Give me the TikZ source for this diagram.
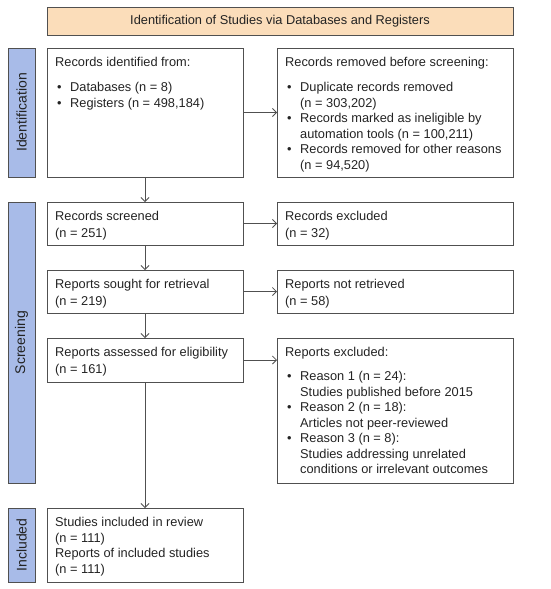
\documentclass[tikz,border=0pt]{standalone}
\usepackage{fontspec}
\setmainfont{Liberation Sans}
\usepackage{xcolor}
\usepackage{tikz}
\usetikzlibrary{arrows.meta}
\definecolor{lineGray}{RGB}{80, 80, 80}
\definecolor{textGray}{RGB}{35, 35, 35}
\definecolor{headOrange}{RGB}{251, 221, 186}
\definecolor{sideBlue}{RGB}{168, 187, 232}
\newcommand{\bul}{\makebox[15pt][l]{\hspace{2pt}\textbullet}}
\newcommand{\cont}{\hspace*{15pt}}

\begin{document}
\begin{tikzpicture}[x=1pt, y=-1pt,
  box/.style={draw=lineGray, line width=0.9pt, anchor=north west, inner sep=0pt, outer sep=0pt},
  txt/.style={anchor=north west, inner sep=0pt, align=left, text=textGray,
    font=\fontsize{12.8}{15.5}\selectfont},
  side/.style={draw=lineGray, line width=0.9pt, fill=sideBlue, rotate=90, inner sep=0pt,
    minimum height=27pt, text=textGray, font=\fontsize{14}{16}\selectfont},
  arr/.style={draw=lineGray, line width=0.8pt, -{Straight Barb[length=4pt, width=8pt]}}]
\useasboundingbox (0,0) rectangle (550,589);
% header and phase labels
\node[draw=lineGray, line width=0.9pt, fill=headOrange, minimum width=466pt, minimum height=28pt, inner sep=0pt,
  text=textGray, font=\fontsize{12.8}{15.5}\selectfont] (head) at (280,21) {Identification of Studies via Databases and Registers};
\node[side, minimum width=129pt] (sideId) at (21.5,112.5) {Identification};
\node[side, minimum width=281pt] (sideScr) at (21.5,342.5) {Screening};
\node[side, minimum width=74pt] (sideInc) at (21.5,545) {Included};
% boxes
\node[box, minimum width=196pt, minimum height=129pt] (ident) at (47,48) {};
\node[box, minimum width=236pt, minimum height=129pt] (removed) at (277,48) {};
\node[box, minimum width=196pt, minimum height=43pt] (screened) at (47,202) {};
\node[box, minimum width=236pt, minimum height=43pt] (excluded) at (277,202) {};
\node[box, minimum width=196pt, minimum height=43pt] (sought) at (47,270) {};
\node[box, minimum width=236pt, minimum height=43pt] (notret) at (277,270) {};
\node[box, minimum width=196pt, minimum height=44pt] (assessed) at (47,338) {};
\node[box, minimum width=236pt, minimum height=145pt] (repexcl) at (277,338) {};
\node[box, minimum width=196pt, minimum height=74pt] (included) at (47,508) {};
% texts
\node[txt] (identT) at ([shift={(8,9.5)}]ident.north west) {Records identified from:\\[9.5pt]
  \bul Databases (n = 8)\\ \bul Registers (n = 498,184)};
\node[txt] (removedT) at ([shift={(8,9.5)}]removed.north west) {Records removed before screening:\\[9.5pt]
  \bul Duplicate records removed\\ \cont(n = 303,202)\\
  \bul Records marked as ineligible by\\ \cont automation tools (n = 100,211)\\
  \bul Records removed for other reasons\\ \cont(n = 94,520)};
\node[txt] (screenedT) at ([shift={(8,9.5)}]screened.north west) {Records screened\\[1.5pt] (n = 251)};
\node[txt] (excludedT) at ([shift={(8,9.5)}]excluded.north west) {Records excluded\\[1.5pt] (n = 32)};
\node[txt] (soughtT) at ([shift={(8,9.5)}]sought.north west) {Reports sought for retrieval\\[1.5pt] (n = 219)};
\node[txt] (notretT) at ([shift={(8,9.5)}]notret.north west) {Reports not retrieved\\[1.5pt] (n = 58)};
\node[txt] (assessedT) at ([shift={(8,9.5)}]assessed.north west) {Reports assessed for eligibility\\[1.5pt] (n = 161)};
\node[txt] (repexclT) at ([shift={(8,9.5)}]repexcl.north west) {Reports excluded:\\[8.5pt]
  \bul Reason 1 (n = 24):\\ \cont Studies published before 2015\\
  \bul Reason 2 (n = 18):\\ \cont Articles not peer-reviewed\\
  \bul Reason 3 (n = 8):\\ \cont Studies addressing unrelated\\ \cont conditions or irrelevant outcomes};
\node[txt] (includedT) at ([shift={(8,9.5)}]included.north west) {Studies included in review\\ (n = 111)\\
  Reports of included studies\\ (n = 111)};
% connectors
\draw[arr] (ident.east) -- (ident.east -| removed.west);
\draw[arr] (screened) -- (excluded);
\draw[arr] (sought) -- (notret);
\draw[arr] (assessed.east) -- (assessed.east -| repexcl.west);
\draw[arr] (ident) -- (screened);
\draw[arr] (screened) -- (sought);
\draw[arr] (sought) -- (assessed);
\draw[arr] (assessed) -- (included);
\end{tikzpicture}
\end{document}
